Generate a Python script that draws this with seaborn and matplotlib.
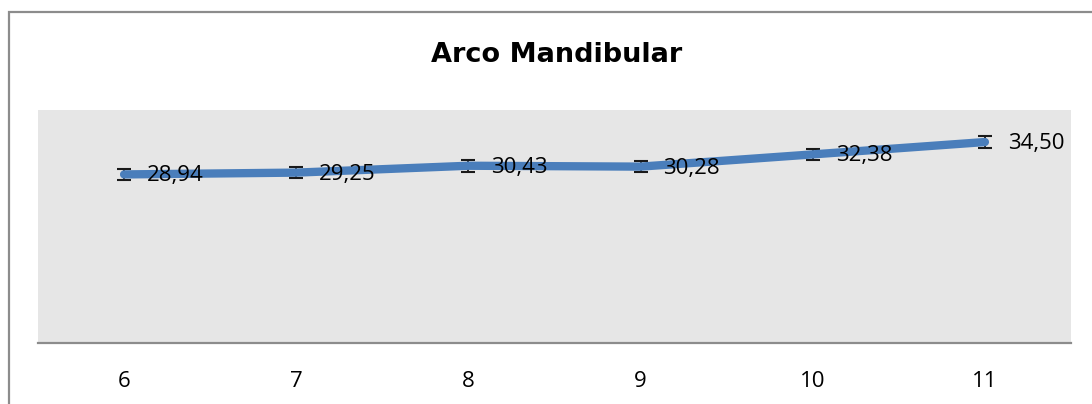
import matplotlib
matplotlib.use("Agg")
import matplotlib.pyplot as plt
import seaborn as sns
import pandas as pd
from matplotlib.patches import Rectangle

# Data
ages = ["6", "7", "8", "9", "10", "11"]
values = [28.94, 29.25, 30.43, 30.28, 32.38, 34.50]
errors = [1.0, 1.0, 1.0, 1.0, 1.0, 1.0]
labels = ["28,94", "29,25", "30,43", "30,28", "32,38", "34,50"]
title = "Arco Mandibular"

sns.set_style("white")
plt.rcParams["font.family"] = ["Open Sans", "DejaVu Sans"]

W, H = 1092, 404
fig = plt.figure(figsize=(W / 100, H / 100), dpi=100)

# outer chart border
fig.patches.append(Rectangle((9 / W, -0.1), 1.2, (H - 12) / H + 0.1,
                             transform=fig.transFigure, fill=False,
                             edgecolor="#8c8c8c", linewidth=1.6))

ax = fig.add_axes([38 / W, (H - 343) / H, (1071 - 38) / W, (343 - 110) / H])
ax.set_facecolor("#e6e6e6")

df = pd.DataFrame({"age": ages, "value": values})

ax.errorbar(ages, values, yerr=errors, fmt="none", ecolor="#1a1a1a",
            elinewidth=1.3, capsize=5, capthick=1.5, zorder=2)
sns.lineplot(data=df, x="age", y="value", ax=ax, color="#4a7ebb",
             linewidth=6, sort=False, zorder=3)

for i, (v, lab) in enumerate(zip(values, labels)):
    ax.annotate(lab, (i, v), xytext=(16.5, -1), textcoords="offset points",
                ha="left", va="center", fontsize=16, color="#000000", zorder=4)

ax.set_xlim(-0.5, 5.5)
ax.set_ylim(0, 40)
ax.set_yticks([])
ax.set_xlabel("")
ax.set_ylabel("")
ax.tick_params(axis="x", length=0, labelsize=16, pad=20.5, colors="#000000")

for s in ["top", "right", "left"]:
    ax.spines[s].set_visible(False)
ax.spines["bottom"].set_color("#8c8c8c")
ax.spines["bottom"].set_linewidth(1.6)

fig.text(557 / W, (H - 62) / H, title, ha="center", va="baseline",
         fontsize=19.5, fontweight="bold", color="#000000",
         family=["DejaVu Sans"])

fig.savefig("out.png", dpi=100, facecolor="white")
